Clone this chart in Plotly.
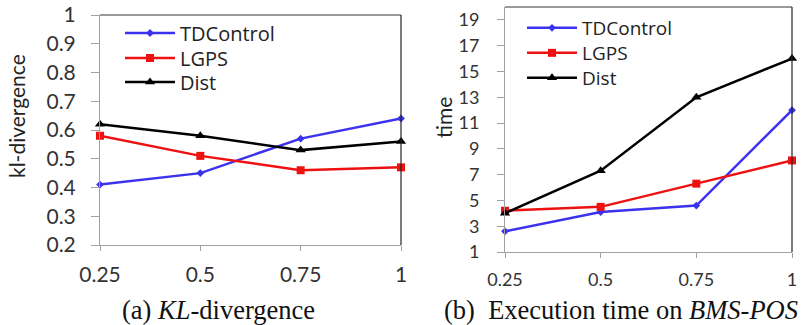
import plotly.graph_objects as go

x_vals = [0.25, 0.5, 0.75, 1]
x_labels = ["0.25", "0.5", "0.75", "1"]
series_names = ["TDControl", "LGPS", "Dist"]

kl_td = [0.41, 0.45, 0.57, 0.64]
kl_lgps = [0.58, 0.51, 0.46, 0.47]
kl_dist = [0.62, 0.58, 0.53, 0.56]

time_td = [2.6, 4.1, 4.6, 12.0]
time_lgps = [4.2, 4.5, 6.3, 8.1]
time_dist = [4.0, 7.3, 13.0, 16.0]

kl_ticks = [0.2, 0.3, 0.4, 0.5, 0.6, 0.7, 0.8, 0.9, 1]
kl_ticklabels = ["0.2", "0.3", "0.4", "0.5", "0.6", "0.7", "0.8", "0.9", "1"]
time_ticks = [1, 3, 5, 7, 9, 11, 13, 15, 17, 19]

colors = ["#3c32ee", "#ee1111", "#000000"]
symbols = ["diamond", "square", "triangle-up"]
sizes = [6, 8, 9]

W, H = 804, 325
SANS = "Lato, Open Sans, sans-serif"
LEG = "Open Sans, sans-serif"
fig = go.Figure()

def px_x(v):
    return v / W

def px_y(v):
    return 1 - v / H

left_rows = [33, 58, 82]
right_rows = [28, 53, 78]
legend_layout = {}

for i, ys in enumerate([kl_td, kl_lgps, kl_dist]):
    lg = "legend" if i == 0 else f"legend{i + 1}"
    fig.add_trace(go.Scatter(x=x_vals, y=ys, mode="lines+markers", name=series_names[i],
                             line=dict(color=colors[i], width=2.5),
                             marker=dict(symbol=symbols[i], size=sizes[i], color=colors[i]),
                             xaxis="x", yaxis="y", legend=lg, cliponaxis=False))
    legend_layout[lg] = dict(x=px_x(120), y=px_y(left_rows[i]), xanchor="left", yanchor="middle",
                             bgcolor="rgba(0,0,0,0)", font=dict(family=LEG, size=20, color="#222"),
                             itemwidth=50)
for i, ys in enumerate([time_td, time_lgps, time_dist]):
    lg = f"legend{i + 4}"
    fig.add_trace(go.Scatter(x=x_vals, y=ys, mode="lines+markers", name=series_names[i],
                             line=dict(color=colors[i], width=2.5),
                             marker=dict(symbol=symbols[i], size=sizes[i], color=colors[i]),
                             xaxis="x2", yaxis="y2", legend=lg, cliponaxis=False))
    legend_layout[lg] = dict(x=px_x(522), y=px_y(right_rows[i]), xanchor="left", yanchor="middle",
                             bgcolor="rgba(0,0,0,0)", font=dict(family=LEG, size=19, color="#222"),
                             itemwidth=50)

tickfont_l = dict(family=SANS, size=21, color="#333")
tickfont_r = dict(family=SANS, size=18, color="#333")
axcol = "#a0a0a0"
common = dict(showgrid=False, zeroline=False, showline=True, linecolor=axcol, linewidth=1,
              ticks="outside", tickcolor=axcol, automargin=False)

fig.update_layout(
    width=W, height=H, margin=dict(l=0, r=0, t=0, b=0),
    paper_bgcolor="white", plot_bgcolor="white",
    xaxis=dict(domain=[px_x(100), px_x(401)], range=[0.25, 1], tickvals=x_vals, ticktext=x_labels,
               ticklen=5, tickfont=tickfont_l, anchor="y", ticklabelstandoff=6, **common),
    yaxis=dict(domain=[px_y(245), px_y(15)], range=[0.2, 1], tickvals=kl_ticks, ticktext=kl_ticklabels,
               ticklen=8, tickfont=tickfont_l, anchor="x", ticklabelstandoff=11, **common),
    xaxis2=dict(domain=[px_x(505), px_x(792)], range=[0.25, 1], tickvals=x_vals, ticktext=x_labels,
                ticklen=5, tickfont=tickfont_r, anchor="y2", ticklabelstandoff=6, **common),
    yaxis2=dict(domain=[px_y(252), px_y(7)], range=[1, 20], tickvals=time_ticks,
                ticklen=7, tickfont=tickfont_r, anchor="x2", ticklabelstandoff=14, **common),
    showlegend=True,
    **legend_layout,
)

# box borders (top and right)
for xr, yr in [("x domain", "y domain"), ("x2 domain", "y2 domain")]:
    fig.add_shape(type="line", xref=xr, yref=yr, x0=0, x1=1, y0=1, y1=1, line=dict(color="#333", width=1))
    fig.add_shape(type="line", xref=xr, yref=yr, x0=1, x1=1, y0=0, y1=1, line=dict(color="#222", width=1.2))

# axis titles
fig.add_annotation(text="kl-divergence", x=px_x(17), y=px_y(116), xref="paper", yref="paper",
                   showarrow=False, textangle=-90, font=dict(family=SANS, size=21, color="#222"),
                   xanchor="center", yanchor="middle")
fig.add_annotation(text="time", x=px_x(443), y=px_y(118), xref="paper", yref="paper",
                   showarrow=False, textangle=-90, font=dict(family=SANS, size=21, color="#222"),
                   xanchor="center", yanchor="middle")

cap_font = dict(family="Liberation Serif, DejaVu Serif, serif", size=26.5, color="#111")
fig.add_annotation(text="(a) <i>KL</i>-divergence", x=px_x(218), y=px_y(310), xref="paper", yref="paper",
                   showarrow=False, font=cap_font, xanchor="center", yanchor="middle")
fig.add_annotation(text="(b)&nbsp; Execution time on <i>BMS-POS</i>", x=px_x(621), y=px_y(310), xref="paper", yref="paper",
                   showarrow=False, font=cap_font, xanchor="center", yanchor="middle")

fig.write_html("out.html", config={"displayModeBar": False},
               post_script="document.body.style.margin='0';document.body.style.overflow='hidden';")
